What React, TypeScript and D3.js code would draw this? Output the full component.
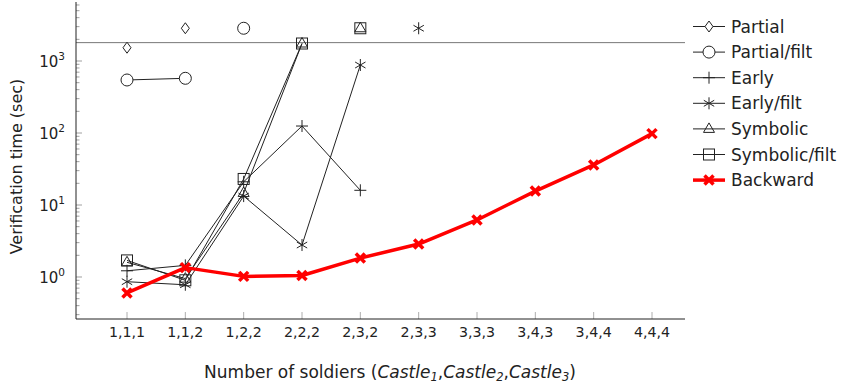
import * as d3 from "d3";

const categories = ["1,1,1", "1,1,2", "1,2,2", "2,2,2", "2,3,2", "2,3,3", "3,3,3", "3,4,3", "3,4,4", "4,4,4"];

// verification times in seconds, null = not measured
const partial = [1530, null];
const partialFilt = [545, 575, null];
const early = [1.22, 1.45, 21, 125, 16];
const earlyFilt = [0.86, 0.78, 13.3, 2.78, 880];
const symbolic = [1.6, 0.95, 14.7, 1750];
const symbolicFilt = [1.7, 0.9, 23, 1750];
const backward = [0.6, 1.35, 1.02, 1.05, 1.83, 2.87, 6.2, 15.6, 36, 98];

// runs that hit the time limit, drawn above the limit line
const timeoutAt = {
  partial: ["1,1,2"],
  partialFilt: ["1,2,2"],
  early: [] as string[],
  earlyFilt: ["2,3,3"],
  symbolic: ["2,3,2"],
  symbolicFilt: ["2,3,2"],
};
const timeLimit = 1800;
const timeoutValue = 2850;

const yTickExps = [0, 1, 2, 3];

type Marker = "diamond" | "circle" | "plus" | "asterisk" | "triangle" | "square" | "x";

const series: { key: string; label: string; values: (number | null)[]; marker: Marker; timeouts: string[] }[] = [
  { key: "partial", label: "Partial", values: partial, marker: "diamond", timeouts: timeoutAt.partial },
  { key: "partialFilt", label: "Partial/filt", values: partialFilt, marker: "circle", timeouts: timeoutAt.partialFilt },
  { key: "early", label: "Early", values: early, marker: "plus", timeouts: timeoutAt.early },
  { key: "earlyFilt", label: "Early/filt", values: earlyFilt, marker: "asterisk", timeouts: timeoutAt.earlyFilt },
  { key: "symbolic", label: "Symbolic", values: symbolic, marker: "triangle", timeouts: timeoutAt.symbolic },
  { key: "symbolicFilt", label: "Symbolic/filt", values: symbolicFilt, marker: "square", timeouts: timeoutAt.symbolicFilt },
];

const font = "'DejaVu Sans', sans-serif";
const ink = "#222";

function MarkerShape({ type, x, y, color = ink }: { type: Marker; x: number; y: number; color?: string }) {
  const common = { fill: "white", stroke: color, strokeWidth: 1 };
  switch (type) {
    case "diamond":
      return <path d={`M${x},${y - 5.5}L${x + 4},${y}L${x},${y + 5.5}L${x - 4},${y}Z`} {...common} />;
    case "circle":
      return <circle cx={x} cy={y} r={6} {...common} />;
    case "plus":
      return <path d={`M${x - 6},${y}H${x + 6}M${x},${y - 6}V${y + 6}`} stroke={color} strokeWidth={1} fill="none" />;
    case "asterisk": {
      const r = 6;
      const dx = r * Math.cos(Math.PI / 6);
      const dy = r * Math.sin(Math.PI / 6);
      return (
        <path
          d={`M${x},${y - r}V${y + r}M${x - dx},${y - dy}L${x + dx},${y + dy}M${x - dx},${y + dy}L${x + dx},${y - dy}`}
          stroke={color}
          strokeWidth={1}
          fill="none"
        />
      );
    }
    case "triangle":
      return <path d={`M${x},${y - 6}L${x + 5.5},${y + 3.5}L${x - 5.5},${y + 3.5}Z`} {...common} fill="none" />;
    case "square":
      return <rect x={x - 5.5} y={y - 5.5} width={11} height={11} {...common} fill="none" />;
    case "x":
      return (
        <path
          d={`M${x - 4.5},${y - 4.5}L${x + 4.5},${y + 4.5}M${x - 4.5},${y + 4.5}L${x + 4.5},${y - 4.5}`}
          stroke={color}
          strokeWidth={3.5}
          fill="none"
        />
      );
  }
}

export default function App() {
  const width = 841;
  const height = 386;
  const left = 76;
  const right = 685;
  const top = 2;
  const bottom = 319;

  const x = d3.scalePoint<string>().domain(categories).range([127, 652]);
  const y = d3.scaleLog().domain([0.261, 6600]).range([bottom, top]);

  const line = d3
    .line<number | null>()
    .defined((d) => d != null)
    .x((_, i) => x(categories[i])!)
    .y((d) => y(d as number));

  const minorTicks: number[] = [];
  for (let e = -1; e <= 3; e++) {
    for (let m = 2; m <= 9; m++) {
      const v = m * Math.pow(10, e);
      if (v >= 0.261 && v <= 6600) minorTicks.push(v);
    }
  }

  const legendItems = [
    ...series.map((s) => ({ label: s.label, marker: s.marker, color: ink, w: 1 })),
    { label: "Backward", marker: "x" as Marker, color: "#ff0000", w: 3.5 },
  ];

  return (
    <svg width={width} height={height} style={{ position: "absolute", left: 0, top: 0 }} fontFamily={font}>
      {/* time limit */}
      <line x1={left} x2={right} y1={y(timeLimit)} y2={y(timeLimit)} stroke="#777" strokeWidth={1} />

      {/* axes */}
      {minorTicks.map((t) => (
        <line key={`m${t}`} x1={left} x2={left + 3.5} y1={y(t)} y2={y(t)} stroke="#888" strokeWidth={0.8} />
      ))}
      {yTickExps.map((e) => (
        <g key={`y${e}`} transform={`translate(0,${y(Math.pow(10, e))})`}>
          <line x1={left} x2={left + 6} stroke="#888" strokeWidth={0.8} />
          <text x={65} y={6} textAnchor="end" fontSize={15} fill={ink}>
            10
            <tspan dy={-7} fontSize={10.5}>
              {e}
            </tspan>
          </text>
        </g>
      ))}
      {categories.map((c) => (
        <g key={c} transform={`translate(${x(c)},${bottom})`}>
          <line y1={0} y2={-7} stroke="#999" strokeWidth={0.8} />
          <text y={18} textAnchor="middle" fontSize={14.2} fill={ink}>
            {c}
          </text>
        </g>
      ))}
      <line x1={left} x2={left} y1={top} y2={bottom} stroke={ink} strokeWidth={1} />
      <line x1={left} x2={right} y1={bottom} y2={bottom} stroke={ink} strokeWidth={1} />

      <text transform={`translate(22,${(top + bottom) / 2 + 6}) rotate(-90)`} textAnchor="middle" fontSize={16} fill={ink}>
        Verification time (sec)
      </text>
      <text x={390} y={378} textAnchor="middle" fontSize={17} fill={ink}>
        Number of soldiers (<tspan fontStyle="italic">Castle</tspan>
        <tspan fontSize={11.5} dy={3} fontStyle="italic">1</tspan>
        <tspan dy={-3}>,</tspan>
        <tspan fontStyle="italic">Castle</tspan>
        <tspan fontSize={11.5} dy={3} fontStyle="italic">2</tspan>
        <tspan dy={-3}>,</tspan>
        <tspan fontStyle="italic">Castle</tspan>
        <tspan fontSize={11.5} dy={3} fontStyle="italic">3</tspan>
        <tspan dy={-3}>)</tspan>
      </text>

      {/* black series */}
      {series.map((s) => (
        <g key={s.key}>
          <path d={line(s.values) ?? ""} fill="none" stroke={ink} strokeWidth={1} />
          {s.values.map((v, i) =>
            v == null ? null : <MarkerShape key={i} type={s.marker} x={x(categories[i])!} y={y(v)} />
          )}
          {s.timeouts.map((c) => (
            <MarkerShape key={`t${c}`} type={s.marker} x={x(c)!} y={y(timeoutValue)} />
          ))}
        </g>
      ))}

      {/* backward */}
      <path d={line(backward) ?? ""} fill="none" stroke="#ff0000" strokeWidth={3.5} strokeLinejoin="round" />
      {backward.map((v, i) => (
        <MarkerShape key={`b${i}`} type="x" x={x(categories[i])!} y={y(v)} color="#ff0000" />
      ))}

      {/* legend */}
      {legendItems.map((item, i) => {
        const ly = 26.5 + i * 25.6;
        return (
          <g key={item.label}>
            <line x1={693} x2={725} y1={ly} y2={ly} stroke={item.color} strokeWidth={item.w} />
            <MarkerShape type={item.marker} x={709} y={ly} color={item.color} />
            <text x={731} y={ly + 6} fontSize={17} fill={ink}>
              {item.label}
            </text>
          </g>
        );
      })}
    </svg>
  );
}
